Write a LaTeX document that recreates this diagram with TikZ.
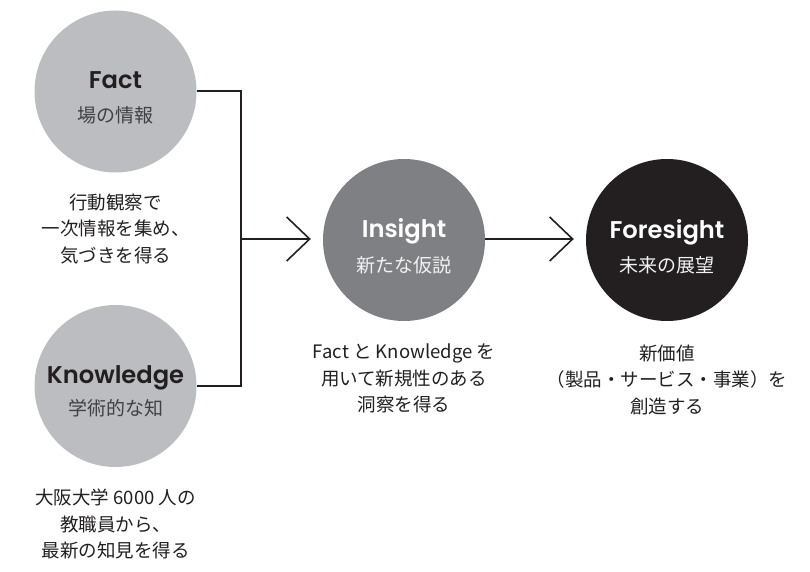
\documentclass[tikz,border=0pt]{standalone}
\usepackage{fontspec}
\setmainfont{Noto Sans CJK JP}
\newfontfamily\titlefont{Poppins SemiBold}
\usetikzlibrary{arrows.meta}
\definecolor{lightc}{HTML}{BCBDC0}
\definecolor{midc}{HTML}{7F8084}
\definecolor{darkc}{HTML}{231F20}
\definecolor{subdark}{HTML}{404041}
\definecolor{subwhite}{HTML}{F2F2F2}
\tikzset{
  bubble/.style={circle, minimum size=162pt, inner sep=0pt, draw=none},
  titletext/.style={font=\titlefont\fontsize{24.2}{28}\selectfont, anchor=base, inner sep=0pt},
  subtext/.style={font=\fontsize{19}{23}\selectfont, inner sep=0pt},
  desctext/.style={font=\fontsize{18.5}{26.5}\selectfont, align=center, inner sep=0pt, text=darkc},
  conn/.style={draw=darkc, line width=2pt},
  chev/.style={conn, -{Straight Barb[length=23pt,width=44pt,line width=1.6pt]}, shorten >=12pt},
}
\begin{document}
\begin{tikzpicture}[x=1pt,y=-1pt]
\useasboundingbox (0,0) rectangle (810,572);
% circles
\node[bubble, fill=lightc] (fact) at (115.5,91.5) {};
\node[bubble, fill=lightc] (know) at (115.5,386) {};
\node[bubble, fill=midc] (ins) at (404,240) {};
\node[bubble, fill=darkc] (fore) at (667,240) {};
% titles
\node[titletext, text=darkc] (factT) at (115.5,88.5) {Fact};
\node[titletext, text=darkc] (knowT) at (115.5,383) {Knowledge};
\node[titletext, text=white] (insT) at (404,237.5) {Insight};
\node[titletext, text=white] (foreT) at (667,238) {Foresight};
% subtitles
\node[subtext, text=subdark] (factS) at (115.5,115) {場の情報};
\node[subtext, text=subdark] (knowS) at (115.5,408.5) {学術的な知};
\node[subtext, text=subwhite] (insS) at (404,265) {新たな仮説};
\node[subtext, text=subwhite] (foreS) at (667,265.5) {未来の展望};
% descriptions
\node[desctext] (factD) at (115.5,229) {行動観察で\\一次情報を集め、\\気づきを得る};
\node[desctext] (knowD) at (115.5,524) {大阪大学 6000 人の\\教職員から、\\最新の知見を得る};
\node[desctext] (insD) at (404,378.5) {Fact と Knowledge を\\用いて新規性のある\\洞察を得る};
\node[desctext] (foreD) at (667,379.5) {新価値\\（製品・サービス・事業）を\\創造する};
% connectors
\coordinate (j) at (241,239);
\draw[conn] (fact.east) -| (j) |- (know.east);
\draw[chev] (j) -- (j -| ins.west);
\draw[chev] (ins.east |- j) -- (j -| fore.west);
\end{tikzpicture}
\end{document}
